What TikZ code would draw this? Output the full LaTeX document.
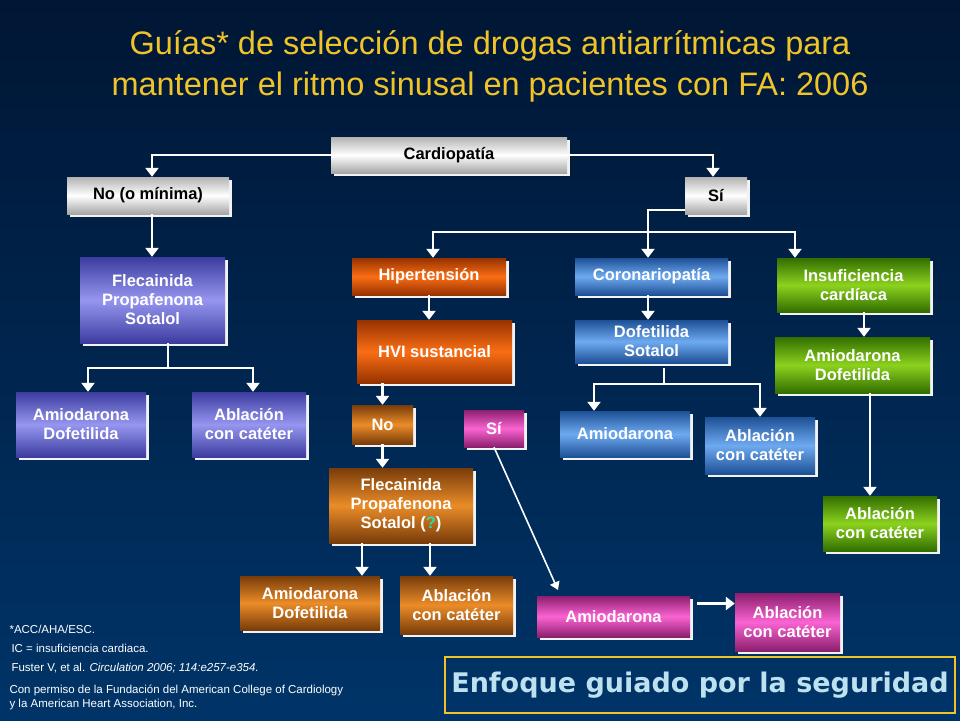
\documentclass[tikz,border=0pt]{standalone}
\usepackage{fontspec}
\setmainfont{Liberation Sans}
\newfontfamily\comicfont{DejaVu Sans}
\usetikzlibrary{arrows.meta}
\definecolor{titleyellow}{RGB}{240,196,40}
\definecolor{bgtop}{RGB}{0,22,52}
\definecolor{bgbot}{RGB}{0,52,104}
\definecolor{blueA}{RGB}{150,150,240}
\definecolor{blueB}{RGB}{60,60,160}
\definecolor{orangeA}{RGB}{250,110,20}
\definecolor{orangeB}{RGB}{150,50,0}
\definecolor{brownA}{RGB}{235,140,40}
\definecolor{brownB}{RGB}{120,60,10}
\definecolor{pinkA}{RGB}{250,100,210}
\definecolor{pinkB}{RGB}{140,30,110}
\definecolor{skyA}{RGB}{110,170,240}
\definecolor{skyB}{RGB}{30,80,150}
\definecolor{greenA}{RGB}{140,210,30}
\definecolor{greenB}{RGB}{50,110,0}
\definecolor{slogan}{RGB}{190,225,240}
\definecolor{qmark}{RGB}{40,220,180}

\tikzset{
  box/.style={inner sep=0pt, align=center, text=white,
    font=\fontsize{16.5}{19}\selectfont\bfseries},
  fillgrad/.style 2 args={top color=#2, bottom color=#2, middle color=#1},
  lightbox/.style={inner sep=0pt, align=center, text=black,
    font=\fontsize{16.5}{19}\selectfont\bfseries,
    top color=gray!60, bottom color=gray!70, middle color=white},
  link/.style={white, line width=2.6pt},
  arr/.style={white, line width=2.6pt, -{Triangle[width=13pt,length=9pt]}},
  note/.style={anchor=west, text=white, font=\fontsize{11.5}{14}\selectfont}
}
% box with white drop edge
\newcommand{\flowbox}[8]{%
  \fill[white!90!gray] (#2+3,#3+3) rectangle (#4+3,#5+3);
  \node[#6, minimum width={(#4-#2)*1pt}, minimum height={(#5-#3)*1pt}]
    (#1) at ({(#2+#4)/2},{(#3+#5)/2}) {#7#8};}

\begin{document}
\begin{tikzpicture}[x=1pt,y=-1pt]
  % background
  \shade[top color=bgtop, bottom color=bgbot] (0,0) rectangle (960,720);
  \useasboundingbox (0,0) rectangle (960,720);

  % title
  \node[text=titleyellow, align=center, font=\fontsize{32.5}{41}\selectfont] (title) at (490,66)
    {Guías* de selección de drogas antiarrítmicas para\\mantener el ritmo sinusal en pacientes con FA: 2006};

  % top level
  \flowbox{card}{331}{137}{567}{173}{lightbox}{Cardiopatía}{}
  \flowbox{nomin}{67}{177}{229}{214}{lightbox}{No (o mínima)}{}
  \flowbox{si}{685}{177}{747}{214}{lightbox}{Sí}{}

  % left branch
  \flowbox{flecL}{80}{257}{225}{343}{box,fillgrad={blueA}{blueB}}{Flecainida\\Propafenona\\Sotalol}{}
  \flowbox{amioL}{16}{392}{146}{457}{box,fillgrad={blueA}{blueB}}{Amiodarona\\Dofetilida}{}
  \flowbox{ablaL}{192}{392}{306}{457}{box,fillgrad={blueA}{blueB}}{Ablación\\con catéter}{}

  % hypertension branch
  \flowbox{hiper}{352}{258}{506}{295}{box,fillgrad={orangeA}{orangeB}}{Hipertensión}{}
  \flowbox{hvi}{357}{320}{512}{383}{box,fillgrad={orangeA}{orangeB}}{HVI sustancial}{}
  \flowbox{hvino}{352}{405}{413}{444}{box,fillgrad={brownA}{brownB}}{No}{}
  \flowbox{hvisi}{464}{410}{524}{447}{box,fillgrad={pinkA}{pinkB}}{Sí}{}
  \flowbox{flecM}{329}{468}{473}{543}{box,fillgrad={brownA}{brownB}}{Flecainida\\Propafenona\\Sotalol (\textcolor{qmark}{?})}{}
  \flowbox{amioM}{240}{576}{380}{630}{box,fillgrad={brownA}{brownB}}{Amiodarona\\Dofetilida}{}
  \flowbox{ablaM}{400}{576}{513}{634}{box,fillgrad={brownA}{brownB}}{Ablación\\con catéter}{}
  \flowbox{amioP}{537}{596}{690}{637}{box,fillgrad={pinkA}{pinkB}}{Amiodarona}{}
  \flowbox{ablaP}{735}{593}{840}{651}{box,fillgrad={pinkA}{pinkB}}{Ablación\\con catéter}{}

  % coronary branch
  \flowbox{coron}{575}{258}{728}{295}{box,fillgrad={skyA}{skyB}}{Coronariopatía}{}
  \flowbox{dofet}{575}{320}{728}{363}{box,fillgrad={skyA}{skyB}}{Dofetilida\\Sotalol}{}
  \flowbox{amioC}{560}{411}{690}{457}{box,fillgrad={skyA}{skyB}}{Amiodarona}{}
  \flowbox{ablaC}{705}{417}{815}{474}{box,fillgrad={skyA}{skyB}}{Ablación\\con catéter}{}

  % heart failure branch
  \flowbox{insuf}{777}{258}{930}{312}{box,fillgrad={greenA}{greenB}}{Insuficiencia\\cardíaca}{}
  \flowbox{amioG}{775}{337}{930}{393}{box,fillgrad={greenA}{greenB}}{Amiodarona\\Dofetilida}{}
  \flowbox{ablaG}{823}{496}{937}{551}{box,fillgrad={greenA}{greenB}}{Ablación\\con catéter}{}

  % connectors
  \draw[arr] (card.west) -| (nomin.north -| 152,0);
  \draw[arr] (card.east) -| (si.north -| 713,0);
  \draw[arr] (nomin.south -| 152,0) -- (flecL.north -| 152,0);
  \coordinate (busL) at (168,368);
  \draw[link] (flecL.south -| busL) -- (busL);
  \draw[arr] (busL) -| (amioL.north -| 88,0);
  \draw[arr] (busL) -| (ablaL.north -| 253,0);
  \coordinate (siL) at (648,210);
  \coordinate (busS) at (648,232);
  \draw[link] (si.west |- siL) -- (siL) -- (busS);
  \draw[arr] (busS) -| (hiper.north -| 433,0);
  \draw[arr] (busS) -- (coron.north -| busS);
  \draw[arr] (busS) -| (insuf.north -| 795,0);
  \draw[arr] (hiper.south) -- (hvi.north -| hiper.south);
  \draw[arr] (hvi.south -| hvino.north) -- (hvino.north);
  \draw[arr] (hvino.south) -- (flecM.north -| hvino.south);
  \draw[arr] (flecM.south -| 362,0) -- (amioM.north -| 362,0);
  \draw[arr] (flecM.south -| 430,0) -- (ablaM.north -| 430,0);
  \draw[white, line width=1.6pt, -{Triangle[width=10pt,length=8pt]}] (hvisi.south) -- (558,590);
  \draw[arr] (amioP.east) ++(7,-13) coordinate (pa) -- (ablaP.west |- pa);
  \draw[arr] (coron.south -| 648,0) -- (dofet.north -| 648,0);
  \coordinate (busC) at (664,384);
  \draw[link] (664,368) -- (busC);
  \draw[arr] (busC) -| (amioC.north -| 594,0);
  \draw[arr] (busC) -| (ablaC.north -| 760,0);
  \draw[arr] (insuf.south -| 864,0) -- (amioG.north -| 864,0);
  \draw[arr] (amioG.south -| 870,0) -- (ablaG.north -| 870,0);

  % footnotes
  \node[note] (n1) at (6,629) {*ACC/AHA/ESC.};
  \node[note] (n2) at (8,648) {IC = insuficiencia cardiaca.};
  \node[note] (n3) at (8,668) {Fuster V, et al. \textit{Circulation 2006; 114:e257-e354.}};
  \node[note, align=left] (n4) at (6,697) {Con permiso de la Fundación del American College of Cardiology\\y la American Heart Association, Inc.};

  % slogan
  \node[draw=titleyellow, line width=1.2pt, minimum width=510pt, minimum height=56pt,
    text=slogan, font=\comicfont\bfseries\fontsize{27}{30}\selectfont] (slog) at (700,685)
    {Enfoque guiado por la seguridad};
\end{tikzpicture}
\end{document}
